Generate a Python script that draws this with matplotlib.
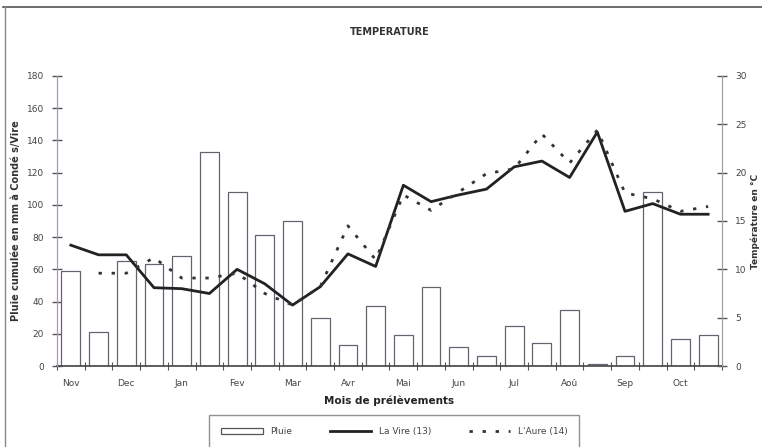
import numpy as np
import matplotlib
matplotlib.use("Agg")
import matplotlib.pyplot as plt
from matplotlib.lines import Line2D
from matplotlib.patches import Rectangle

# mois (une étiquette pour deux prélèvements)
mois = ["Nov", "Dec", "Jan", "Fev", "Mar", "Avr", "Mai", "Jun", "Jul", "Aoû", "Sep", "Oct"]

# pluie cumulée (mm) - 2 valeurs par mois
pluie = [59, 21, 65, 63, 68, 133, 108, 81, 90, 30, 13, 37,
         19, 49, 12, 6, 25, 14, 35, 1, 6, 108, 17, 19]

# températures (°C)
vire = [12.5, 11.5, 11.5, 8.1, 8.0, 7.5, 10.0, 8.5, 6.3, 8.2, 11.6, 10.3,
        18.7, 17.0, 17.7, 18.3, 20.6, 21.2, 19.5, 24.2, 16.0, 16.8, 15.7, 15.7]
aure = [np.nan, 9.6, 9.6, 11.2, 9.1, 9.1, 9.6, 7.5, 6.3, 8.2, 14.5, 11.0,
        17.7, 16.1, 18.0, 19.9, 20.4, 24.0, 21.0, 24.4, 17.9, 17.3, 16.0, 16.5]

x = np.arange(len(pluie))

fig = plt.figure(figsize=(7.62, 4.47), dpi=100)
ax = fig.add_axes([0.0748, 0.1812, 0.8727, 0.6488])
ax2 = ax.twinx()

spine_col = "#a898b0"
txt_col = "#444444"
dots = (0, (1.2, 3.5))

ax.bar(x, pluie, width=0.68, facecolor="white", edgecolor="#6a6070", linewidth=0.9, zorder=2)
ax.set_xlim(-0.5, len(pluie) - 0.5)
ax.set_ylim(0, 180)
ax.set_yticks(np.arange(0, 181, 20))

ax2.plot(x, vire, color="#222222", lw=2.0, zorder=3)
ax2.plot(x, aure, color="#333333", lw=2.0, linestyle=dots, zorder=3)
ax2.set_ylim(0, 30)
ax2.set_yticks(np.arange(0, 31, 5))

ax.set_xticks(x[::2])
ax.set_xticklabels(mois)
ax.set_xticks(np.arange(-0.5, len(pluie), 1), minor=True)

for a in (ax, ax2):
    a.spines["top"].set_visible(False)
    a.spines["left"].set_color(spine_col)
    a.spines["right"].set_color(spine_col)
    a.spines["bottom"].set_color("#444444")
    a.spines["bottom"].set_linewidth(1.2)
    a.tick_params(axis="y", direction="inout", length=7, width=1.0, color="#555555",
                  labelsize=6.5, labelcolor=txt_col, pad=6)
ax.tick_params(axis="x", which="major", length=0, labelsize=6.5, labelcolor=txt_col, pad=9)
ax.tick_params(axis="x", which="minor", direction="inout", length=6, width=0.8, color="#555555")
ax2.spines["bottom"].set_visible(False)
ax.set_zorder(ax2.get_zorder() - 1)
ax.patch.set_visible(False)

ax.set_ylabel("Pluie cumulée en mm à Condé s/Vire", fontsize=7, color="#333333",
              fontweight="bold", labelpad=4)
ax2.set_ylabel("Température en °C", fontsize=6.5, color="#333333", fontweight="bold", labelpad=3)
ax.set_xlabel("Mois de prélèvements", fontsize=7.5, color="#222222", fontweight="bold", labelpad=6)
fig.text(0.512, 0.928, "TEMPERATURE", ha="center", va="center", fontsize=7,
         fontweight="bold", color="#333333")

# cadre extérieur
fig.add_artist(Line2D([0.004, 1.0], [0.985, 0.985], color="#555555", lw=1.2))
fig.add_artist(Line2D([0.006, 0.006], [0.0, 0.985], color="#888888", lw=1.0))

handles = [Rectangle((0, 0), 1, 1, facecolor="white", edgecolor="#555555", lw=0.9),
           Line2D([], [], color="#222222", lw=2.0),
           Line2D([], [], color="#333333", lw=2.0, linestyle=dots)]
leg = fig.legend(handles, ["Pluie", "La Vire (13)", "L'Aure (14)"], ncol=3,
                 loc="lower left", bbox_to_anchor=(0.269, -0.012), fontsize=6.5,
                 frameon=True, fancybox=False, edgecolor="#777777",
                 handlelength=4.6, columnspacing=4.2, borderpad=1.3)
leg.get_frame().set_linewidth(1.0)
for t in leg.get_texts():
    t.set_color(txt_col)

fig.savefig("out.png", dpi=100)
